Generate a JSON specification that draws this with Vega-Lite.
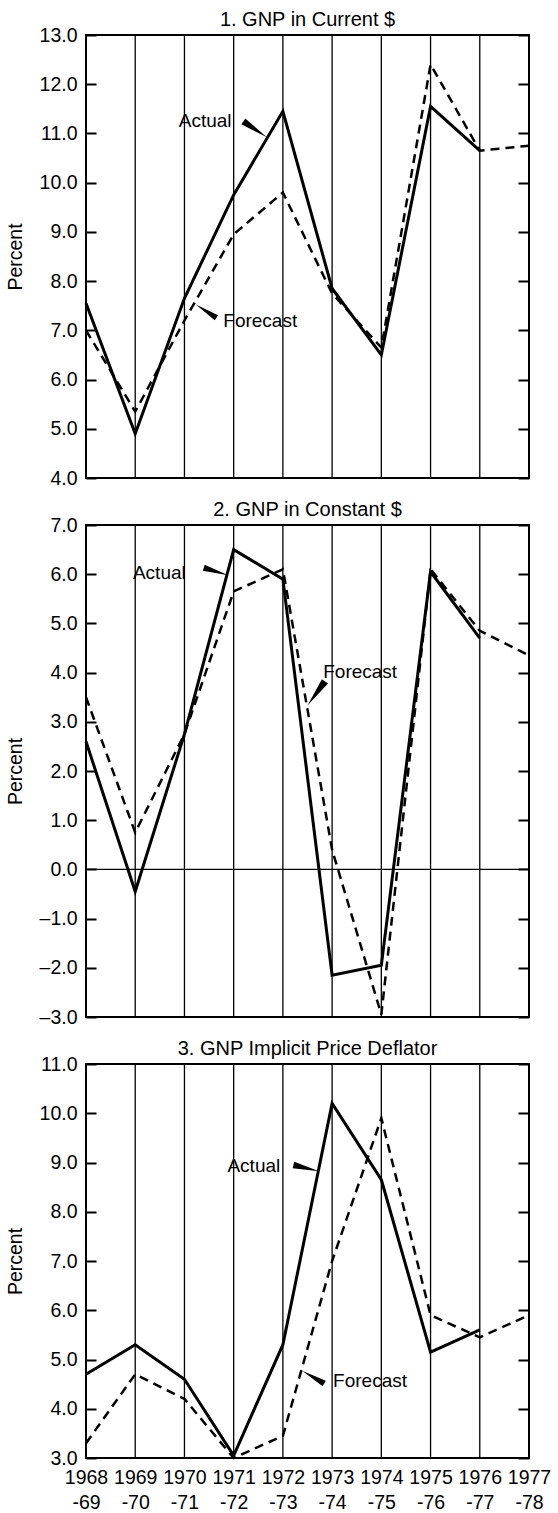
{
  "$schema": "https://vega.github.io/schema/vega-lite/v6.json",
  "padding": {"left": 4, "right": 0, "top": 9, "bottom": 0},
  "spacing": 47,
  "bounds": "flush",
  "config": {
    "font": "Liberation Sans",
    "view": {"stroke": "black", "strokeWidth": 2},
    "axis": {"gridColor": "black", "gridOpacity": 1, "gridWidth": 1.3, "labelColor": "black", "labelFont": "Liberation Sans", "labelFontSize": 19.5, "titleFont": "Liberation Sans", "titleColor": "black", "tickColor": "black", "labelOverlap": false},
    "axisX": {"ticks": false, "domain": false, "grid": false, "labelFlush": false},
    "title": {"fontSize": 20, "fontWeight": "normal", "font": "Liberation Sans", "color": "black", "offset": -5, "frame": "group", "anchor": "middle"}
  },
  "datasets": {
    "series": [
      {"panel": 1, "series": "Actual", "year": 1968, "value": 7.55},
      {"panel": 1, "series": "Actual", "year": 1969, "value": 4.9},
      {"panel": 1, "series": "Actual", "year": 1970, "value": 7.65},
      {"panel": 1, "series": "Actual", "year": 1971, "value": 9.75},
      {"panel": 1, "series": "Actual", "year": 1972, "value": 11.45},
      {"panel": 1, "series": "Actual", "year": 1973, "value": 7.85},
      {"panel": 1, "series": "Actual", "year": 1974, "value": 6.5},
      {"panel": 1, "series": "Actual", "year": 1975, "value": 11.55},
      {"panel": 1, "series": "Actual", "year": 1976, "value": 10.65},
      {"panel": 1, "series": "Forecast", "year": 1968, "value": 7.0},
      {"panel": 1, "series": "Forecast", "year": 1969, "value": 5.35},
      {"panel": 1, "series": "Forecast", "year": 1970, "value": 7.2},
      {"panel": 1, "series": "Forecast", "year": 1971, "value": 8.95},
      {"panel": 1, "series": "Forecast", "year": 1972, "value": 9.8},
      {"panel": 1, "series": "Forecast", "year": 1973, "value": 7.75},
      {"panel": 1, "series": "Forecast", "year": 1974, "value": 6.65},
      {"panel": 1, "series": "Forecast", "year": 1975, "value": 12.4},
      {"panel": 1, "series": "Forecast", "year": 1976, "value": 10.65},
      {"panel": 1, "series": "Forecast", "year": 1977, "value": 10.75},
      {"panel": 2, "series": "Actual", "year": 1968, "value": 2.6},
      {"panel": 2, "series": "Actual", "year": 1969, "value": -0.45},
      {"panel": 2, "series": "Actual", "year": 1970, "value": 2.75},
      {"panel": 2, "series": "Actual", "year": 1971, "value": 6.5},
      {"panel": 2, "series": "Actual", "year": 1972, "value": 5.9},
      {"panel": 2, "series": "Actual", "year": 1973, "value": -2.15},
      {"panel": 2, "series": "Actual", "year": 1974, "value": -1.95},
      {"panel": 2, "series": "Actual", "year": 1975, "value": 6.05},
      {"panel": 2, "series": "Actual", "year": 1976, "value": 4.7},
      {"panel": 2, "series": "Forecast", "year": 1968, "value": 3.5},
      {"panel": 2, "series": "Forecast", "year": 1969, "value": 0.75},
      {"panel": 2, "series": "Forecast", "year": 1970, "value": 2.75},
      {"panel": 2, "series": "Forecast", "year": 1971, "value": 5.65},
      {"panel": 2, "series": "Forecast", "year": 1972, "value": 6.1},
      {"panel": 2, "series": "Forecast", "year": 1973, "value": 0.4},
      {"panel": 2, "series": "Forecast", "year": 1974, "value": -2.95},
      {"panel": 2, "series": "Forecast", "year": 1975, "value": 6.1},
      {"panel": 2, "series": "Forecast", "year": 1976, "value": 4.85},
      {"panel": 2, "series": "Forecast", "year": 1977, "value": 4.35},
      {"panel": 3, "series": "Actual", "year": 1968, "value": 4.7},
      {"panel": 3, "series": "Actual", "year": 1969, "value": 5.3},
      {"panel": 3, "series": "Actual", "year": 1970, "value": 4.6},
      {"panel": 3, "series": "Actual", "year": 1971, "value": 3.05},
      {"panel": 3, "series": "Actual", "year": 1972, "value": 5.3},
      {"panel": 3, "series": "Actual", "year": 1973, "value": 10.2},
      {"panel": 3, "series": "Actual", "year": 1974, "value": 8.65},
      {"panel": 3, "series": "Actual", "year": 1975, "value": 5.15},
      {"panel": 3, "series": "Actual", "year": 1976, "value": 5.6},
      {"panel": 3, "series": "Forecast", "year": 1968, "value": 3.3},
      {"panel": 3, "series": "Forecast", "year": 1969, "value": 4.7},
      {"panel": 3, "series": "Forecast", "year": 1970, "value": 4.2},
      {"panel": 3, "series": "Forecast", "year": 1971, "value": 3.0},
      {"panel": 3, "series": "Forecast", "year": 1972, "value": 3.45},
      {"panel": 3, "series": "Forecast", "year": 1973, "value": 7.0},
      {"panel": 3, "series": "Forecast", "year": 1974, "value": 9.9},
      {"panel": 3, "series": "Forecast", "year": 1975, "value": 5.9},
      {"panel": 3, "series": "Forecast", "year": 1976, "value": 5.45},
      {"panel": 3, "series": "Forecast", "year": 1977, "value": 5.9}
    ],
    "notes": [
      {"panel": 1, "label": "Actual", "year": 1970.42, "value": 11.25},
      {"panel": 1, "label": "Forecast", "year": 1971.54, "value": 7.18},
      {"panel": 2, "label": "Actual", "year": 1969.49, "value": 6.02},
      {"panel": 2, "label": "Forecast", "year": 1973.57, "value": 4.01},
      {"panel": 3, "label": "Actual", "year": 1971.41, "value": 8.92},
      {"panel": 3, "label": "Forecast", "year": 1973.77, "value": 4.56}
    ],
    "arrows": [
      {"panel": 1, "label": "Actual", "year": 1971.435, "value": 11.085},
      {"panel": 1, "label": "Forecast", "year": 1970.44, "value": 7.39},
      {"panel": 2, "label": "Actual", "year": 1970.64, "value": 6.055},
      {"panel": 2, "label": "Forecast", "year": 1972.675, "value": 3.575},
      {"panel": 3, "label": "Actual", "year": 1972.475, "value": 8.885},
      {"panel": 3, "label": "Forecast", "year": 1972.615, "value": 4.64}
    ]
  },
  "vconcat": [
    {
      "title": "1. GNP in Current $",
      "width": 443,
      "height": 443,
      "resolve": {"axis": {"y": "independent"}},
      "layer": [
        {
          "data": {"name": "series"},
          "transform": [{"filter": "datum.panel == 1 && datum.series == 'Forecast'"}],
          "mark": {"type": "rule", "color": "black", "strokeWidth": 1.3},
          "encoding": {
            "x": {"field": "year", "type": "quantitative", "scale": {"domain": [1968, 1977], "nice": false, "zero": false}, "axis": {"values": [1968, 1969, 1970, 1971, 1972, 1973, 1974, 1975, 1976, 1977], "labels": false, "title": null}}
          }
        },
        {
          "data": {"name": "series"},
          "transform": [{"filter": "datum.panel == 1 && datum.series == 'Actual'"}],
          "mark": {"type": "line", "color": "black", "strokeWidth": 3, "strokeJoin": "miter"},
          "encoding": {
            "x": {"field": "year", "type": "quantitative", "scale": {"domain": [1968, 1977], "nice": false, "zero": false}, "axis": {"values": [1968, 1969, 1970, 1971, 1972, 1973, 1974, 1975, 1976, 1977], "labels": false, "title": null}},
            "y": {"field": "value", "type": "quantitative", "scale": {"domain": [4, 13], "nice": false, "zero": false},
                  "axis": {"orient": "left", "values": [4, 5, 6, 7, 8, 9, 10, 11, 12, 13], "labelExpr": "(datum.value < 0 ? '–' : '') + format(abs(datum.value), '.1f')", "offset": -10, "tickSize": 10, "tickWidth": 2, "labelPadding": 9, "domain": false, "grid": false, "title": "Percent", "titleX": -81, "titleBaseline": "middle", "titleFontSize": 19.5, "titleFontWeight": "normal"}}
          }
        },
        {
          "data": {"name": "series"},
          "transform": [{"filter": "datum.panel == 1 && datum.series == 'Forecast'"}],
          "mark": {"type": "line", "color": "black", "strokeWidth": 2.5, "strokeDash": [9, 6], "strokeJoin": "miter"},
          "encoding": {
            "x": {"field": "year", "type": "quantitative", "scale": {"domain": [1968, 1977], "nice": false, "zero": false}, "axis": {"values": [1968, 1969, 1970, 1971, 1972, 1973, 1974, 1975, 1976, 1977], "labels": false, "title": null}},
            "y": {"field": "value", "type": "quantitative", "scale": {"domain": [4, 13], "nice": false, "zero": false},
                  "axis": {"orient": "right", "values": [4, 5, 6, 7, 8, 9, 10, 11, 12, 13], "labels": false, "offset": -11, "tickSize": 11, "tickWidth": 2, "domain": false, "grid": false, "title": null}}
          }
        },
        {
          "data": {"name": "arrows"},
          "transform": [{"filter": "datum.panel == 1 && datum.label == 'Actual'"}],
          "mark": {"type": "point", "shape": "M1,0L-1,-0.25L-1,0.25Z", "filled": true, "color": "black", "opacity": 1, "size": 800, "angle": 34},
          "encoding": {
            "x": {"field": "year", "type": "quantitative", "scale": {"domain": [1968, 1977], "nice": false, "zero": false}, "axis": {"values": [1968, 1969, 1970, 1971, 1972, 1973, 1974, 1975, 1976, 1977], "labels": false, "title": null}},
            "y": {"field": "value", "type": "quantitative", "scale": {"domain": [4, 13], "nice": false, "zero": false}, "axis": null}
          }
        },
        {
          "data": {"name": "arrows"},
          "transform": [{"filter": "datum.panel == 1 && datum.label == 'Forecast'"}],
          "mark": {"type": "point", "shape": "M1,0L-1,-0.25L-1,0.25Z", "filled": true, "color": "black", "opacity": 1, "size": 600, "angle": 213},
          "encoding": {
            "x": {"field": "year", "type": "quantitative", "scale": {"domain": [1968, 1977], "nice": false, "zero": false}, "axis": {"values": [1968, 1969, 1970, 1971, 1972, 1973, 1974, 1975, 1976, 1977], "labels": false, "title": null}},
            "y": {"field": "value", "type": "quantitative", "scale": {"domain": [4, 13], "nice": false, "zero": false}, "axis": null}
          }
        },
        {
          "data": {"name": "notes"},
          "transform": [{"filter": "datum.panel == 1"}],
          "mark": {"type": "text", "color": "black", "fontSize": 19, "font": "Liberation Sans", "align": "center", "baseline": "middle"},
          "encoding": {
            "x": {"field": "year", "type": "quantitative", "scale": {"domain": [1968, 1977], "nice": false, "zero": false}, "axis": {"values": [1968, 1969, 1970, 1971, 1972, 1973, 1974, 1975, 1976, 1977], "labels": false, "title": null}},
            "y": {"field": "value", "type": "quantitative", "scale": {"domain": [4, 13], "nice": false, "zero": false}, "axis": null},
            "text": {"field": "label"}
          }
        }
      ]
    },
    {
      "title": "2. GNP in Constant $",
      "width": 443,
      "height": 492,
      "resolve": {"axis": {"y": "independent"}},
      "layer": [
        {
          "data": {"name": "series"},
          "transform": [{"filter": "datum.panel == 2 && datum.series == 'Forecast'"}],
          "mark": {"type": "rule", "color": "black", "strokeWidth": 1.3},
          "encoding": {
            "x": {"field": "year", "type": "quantitative", "scale": {"domain": [1968, 1977], "nice": false, "zero": false}, "axis": {"values": [1968, 1969, 1970, 1971, 1972, 1973, 1974, 1975, 1976, 1977], "labels": false, "title": null}}
          }
        },
        {
          "data": {"values": [{"value": 0}]},
          "mark": {"type": "rule", "color": "black", "strokeWidth": 1.3},
          "encoding": {
            "y": {"field": "value", "type": "quantitative", "scale": {"domain": [-3, 7], "nice": false, "zero": false}, "axis": null}
          }
        },
        {
          "data": {"name": "series"},
          "transform": [{"filter": "datum.panel == 2 && datum.series == 'Actual'"}],
          "mark": {"type": "line", "color": "black", "strokeWidth": 3, "strokeJoin": "miter"},
          "encoding": {
            "x": {"field": "year", "type": "quantitative", "scale": {"domain": [1968, 1977], "nice": false, "zero": false}, "axis": {"values": [1968, 1969, 1970, 1971, 1972, 1973, 1974, 1975, 1976, 1977], "labels": false, "title": null}},
            "y": {"field": "value", "type": "quantitative", "scale": {"domain": [-3, 7], "nice": false, "zero": false},
                  "axis": {"orient": "left", "values": [-3, -2, -1, 0, 1, 2, 3, 4, 5, 6, 7], "labelExpr": "(datum.value < 0 ? '–' : '') + format(abs(datum.value), '.1f')", "offset": -10, "tickSize": 10, "tickWidth": 2, "labelPadding": 9, "domain": false, "grid": false, "title": "Percent", "titleX": -81, "titleBaseline": "middle", "titleFontSize": 19.5, "titleFontWeight": "normal"}}
          }
        },
        {
          "data": {"name": "series"},
          "transform": [{"filter": "datum.panel == 2 && datum.series == 'Forecast'"}],
          "mark": {"type": "line", "color": "black", "strokeWidth": 2.5, "strokeDash": [9, 6], "strokeJoin": "miter"},
          "encoding": {
            "x": {"field": "year", "type": "quantitative", "scale": {"domain": [1968, 1977], "nice": false, "zero": false}, "axis": {"values": [1968, 1969, 1970, 1971, 1972, 1973, 1974, 1975, 1976, 1977], "labels": false, "title": null}},
            "y": {"field": "value", "type": "quantitative", "scale": {"domain": [-3, 7], "nice": false, "zero": false},
                  "axis": {"orient": "right", "values": [-3, -2, -1, 0, 1, 2, 3, 4, 5, 6, 7], "labels": false, "offset": -11, "tickSize": 11, "tickWidth": 2, "domain": false, "grid": false, "title": null}}
          }
        },
        {
          "data": {"name": "arrows"},
          "transform": [{"filter": "datum.panel == 2 && datum.label == 'Actual'"}],
          "mark": {"type": "point", "shape": "M1,0L-1,-0.25L-1,0.25Z", "filled": true, "color": "black", "opacity": 1, "size": 650, "angle": 17},
          "encoding": {
            "x": {"field": "year", "type": "quantitative", "scale": {"domain": [1968, 1977], "nice": false, "zero": false}, "axis": {"values": [1968, 1969, 1970, 1971, 1972, 1973, 1974, 1975, 1976, 1977], "labels": false, "title": null}},
            "y": {"field": "value", "type": "quantitative", "scale": {"domain": [-3, 7], "nice": false, "zero": false}, "axis": null}
          }
        },
        {
          "data": {"name": "arrows"},
          "transform": [{"filter": "datum.panel == 2 && datum.label == 'Forecast'"}],
          "mark": {"type": "point", "shape": "M1,0L-1,-0.25L-1,0.25Z", "filled": true, "color": "black", "opacity": 1, "size": 900, "angle": 126},
          "encoding": {
            "x": {"field": "year", "type": "quantitative", "scale": {"domain": [1968, 1977], "nice": false, "zero": false}, "axis": {"values": [1968, 1969, 1970, 1971, 1972, 1973, 1974, 1975, 1976, 1977], "labels": false, "title": null}},
            "y": {"field": "value", "type": "quantitative", "scale": {"domain": [-3, 7], "nice": false, "zero": false}, "axis": null}
          }
        },
        {
          "data": {"name": "notes"},
          "transform": [{"filter": "datum.panel == 2"}],
          "mark": {"type": "text", "color": "black", "fontSize": 19, "font": "Liberation Sans", "align": "center", "baseline": "middle"},
          "encoding": {
            "x": {"field": "year", "type": "quantitative", "scale": {"domain": [1968, 1977], "nice": false, "zero": false}, "axis": {"values": [1968, 1969, 1970, 1971, 1972, 1973, 1974, 1975, 1976, 1977], "labels": false, "title": null}},
            "y": {"field": "value", "type": "quantitative", "scale": {"domain": [-3, 7], "nice": false, "zero": false}, "axis": null},
            "text": {"field": "label"}
          }
        }
      ]
    },
    {
      "title": "3. GNP Implicit Price Deflator",
      "width": 443,
      "height": 394,
      "resolve": {"axis": {"y": "independent"}},
      "layer": [
        {
          "data": {"name": "series"},
          "transform": [{"filter": "datum.panel == 3 && datum.series == 'Forecast'"}],
          "mark": {"type": "rule", "color": "black", "strokeWidth": 1.3},
          "encoding": {
            "x": {"field": "year", "type": "quantitative", "scale": {"domain": [1968, 1977], "nice": false, "zero": false}, "axis": {"values": [1968, 1969, 1970, 1971, 1972, 1973, 1974, 1975, 1976, 1977], "labelExpr": "[toString(datum.value), '-' + substring(toString(datum.value + 1), 2, 4)]", "labelBaseline": "top", "labelLineHeight": 25, "labelPadding": 10, "title": null}}
          }
        },
        {
          "data": {"name": "series"},
          "transform": [{"filter": "datum.panel == 3 && datum.series == 'Actual'"}],
          "mark": {"type": "line", "color": "black", "strokeWidth": 3, "strokeJoin": "miter"},
          "encoding": {
            "x": {"field": "year", "type": "quantitative", "scale": {"domain": [1968, 1977], "nice": false, "zero": false}, "axis": {"values": [1968, 1969, 1970, 1971, 1972, 1973, 1974, 1975, 1976, 1977], "labelExpr": "[toString(datum.value), '-' + substring(toString(datum.value + 1), 2, 4)]", "labelBaseline": "top", "labelLineHeight": 25, "labelPadding": 10, "title": null}},
            "y": {"field": "value", "type": "quantitative", "scale": {"domain": [3, 11], "nice": false, "zero": false},
                  "axis": {"orient": "left", "values": [3, 4, 5, 6, 7, 8, 9, 10, 11], "labelExpr": "(datum.value < 0 ? '–' : '') + format(abs(datum.value), '.1f')", "offset": -10, "tickSize": 10, "tickWidth": 2, "labelPadding": 9, "domain": false, "grid": false, "title": "Percent", "titleX": -81, "titleBaseline": "middle", "titleFontSize": 19.5, "titleFontWeight": "normal"}}
          }
        },
        {
          "data": {"name": "series"},
          "transform": [{"filter": "datum.panel == 3 && datum.series == 'Forecast'"}],
          "mark": {"type": "line", "color": "black", "strokeWidth": 2.5, "strokeDash": [9, 6], "strokeJoin": "miter"},
          "encoding": {
            "x": {"field": "year", "type": "quantitative", "scale": {"domain": [1968, 1977], "nice": false, "zero": false}, "axis": {"values": [1968, 1969, 1970, 1971, 1972, 1973, 1974, 1975, 1976, 1977], "labelExpr": "[toString(datum.value), '-' + substring(toString(datum.value + 1), 2, 4)]", "labelBaseline": "top", "labelLineHeight": 25, "labelPadding": 10, "title": null}},
            "y": {"field": "value", "type": "quantitative", "scale": {"domain": [3, 11], "nice": false, "zero": false},
                  "axis": {"orient": "right", "values": [3, 4, 5, 6, 7, 8, 9, 10, 11], "labels": false, "offset": -11, "tickSize": 11, "tickWidth": 2, "domain": false, "grid": false, "title": null}}
          }
        },
        {
          "data": {"name": "arrows"},
          "transform": [{"filter": "datum.panel == 3 && datum.label == 'Actual'"}],
          "mark": {"type": "point", "shape": "M1,0L-1,-0.25L-1,0.25Z", "filled": true, "color": "black", "opacity": 1, "size": 700, "angle": 14},
          "encoding": {
            "x": {"field": "year", "type": "quantitative", "scale": {"domain": [1968, 1977], "nice": false, "zero": false}, "axis": {"values": [1968, 1969, 1970, 1971, 1972, 1973, 1974, 1975, 1976, 1977], "labelExpr": "[toString(datum.value), '-' + substring(toString(datum.value + 1), 2, 4)]", "labelBaseline": "top", "labelLineHeight": 25, "labelPadding": 10, "title": null}},
            "y": {"field": "value", "type": "quantitative", "scale": {"domain": [3, 11], "nice": false, "zero": false}, "axis": null}
          }
        },
        {
          "data": {"name": "arrows"},
          "transform": [{"filter": "datum.panel == 3 && datum.label == 'Forecast'"}],
          "mark": {"type": "point", "shape": "M1,0L-1,-0.25L-1,0.25Z", "filled": true, "color": "black", "opacity": 1, "size": 650, "angle": 210},
          "encoding": {
            "x": {"field": "year", "type": "quantitative", "scale": {"domain": [1968, 1977], "nice": false, "zero": false}, "axis": {"values": [1968, 1969, 1970, 1971, 1972, 1973, 1974, 1975, 1976, 1977], "labelExpr": "[toString(datum.value), '-' + substring(toString(datum.value + 1), 2, 4)]", "labelBaseline": "top", "labelLineHeight": 25, "labelPadding": 10, "title": null}},
            "y": {"field": "value", "type": "quantitative", "scale": {"domain": [3, 11], "nice": false, "zero": false}, "axis": null}
          }
        },
        {
          "data": {"name": "notes"},
          "transform": [{"filter": "datum.panel == 3"}],
          "mark": {"type": "text", "color": "black", "fontSize": 19, "font": "Liberation Sans", "align": "center", "baseline": "middle"},
          "encoding": {
            "x": {"field": "year", "type": "quantitative", "scale": {"domain": [1968, 1977], "nice": false, "zero": false}, "axis": {"values": [1968, 1969, 1970, 1971, 1972, 1973, 1974, 1975, 1976, 1977], "labelExpr": "[toString(datum.value), '-' + substring(toString(datum.value + 1), 2, 4)]", "labelBaseline": "top", "labelLineHeight": 25, "labelPadding": 10, "title": null}},
            "y": {"field": "value", "type": "quantitative", "scale": {"domain": [3, 11], "nice": false, "zero": false}, "axis": null},
            "text": {"field": "label"}
          }
        }
      ]
    }
  ]
}
